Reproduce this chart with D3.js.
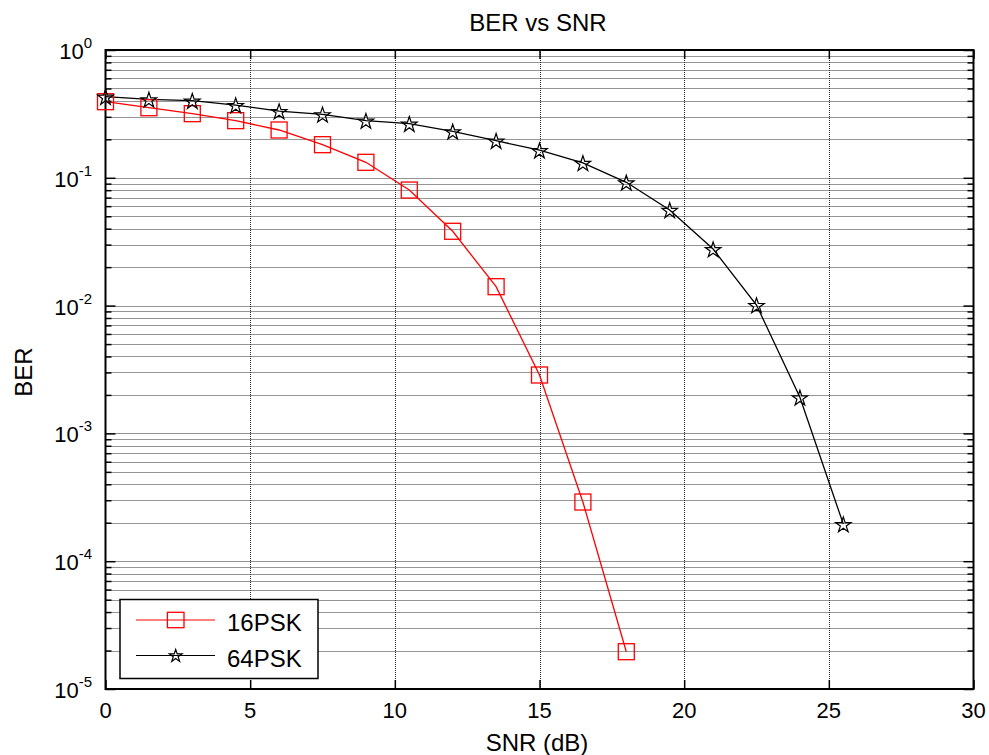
<!DOCTYPE html>
<html>
<head>
<meta charset="utf-8">
<script src="https://cdn.jsdelivr.net/npm/d3@7"></script>
<style>
  html, body { margin: 0; padding: 0; background: #fff; }
  svg { display: block; font-family: "Liberation Sans", Arial, sans-serif; }
</style>
</head>
<body>
<svg id="chart" width="989" height="755"></svg>
<script>
// ---- Data ----
const snr16 = [0, 1.5, 3, 4.5, 6, 7.5, 9, 10.5, 12, 13.5, 15, 16.5, 18];
const ber16 = [0.394, 0.3535, 0.3175, 0.280, 0.2366, 0.1816, 0.1322, 0.0802, 0.03815, 0.01406, 0.002864, 0.0002904, 1.958e-5];
const snr64 = [0, 1.5, 3, 4.5, 6, 7.5, 9, 10.5, 12, 13.5, 15, 16.5, 18, 19.5, 21, 22.5, 24, 25.5];
const ber64 = [0.431, 0.411, 0.401, 0.371, 0.333, 0.314, 0.280, 0.265, 0.231, 0.195, 0.1644, 0.131, 0.0922, 0.056, 0.0277, 0.0101, 0.001915, 0.000195];
const seriesNames = ["16PSK", "64PSK"];
const xTicks = [0, 5, 10, 15, 20, 25, 30];
const yExponents = [0, -1, -2, -3, -4, -5];
const titleText = "BER vs SNR";
const xLabel = "SNR (dB)";
const yLabel = "BER";

// ---- Layout ----
const svg = d3.select("#chart");
const L = 105.5, R = 973.5, T = 50, B = 689;
const x = d3.scaleLinear().domain([0, 30]).range([L, R]);
const y = d3.scaleLog().domain([1e-5, 1]).range([B, T]);

// minor log values
const minorVals = [];
for (let e = -5; e < 0; e++) {
  for (let m = 2; m <= 9; m++) minorVals.push(m * Math.pow(10, e));
}
const majorVals = yExponents.map(e => Math.pow(10, e));

// ---- Grid ----
const grid = svg.append("g").attr("stroke", "#2a2a2a").attr("stroke-width", 1).attr("stroke-dasharray", "1,1");
grid.selectAll("line.hg").data(minorVals.concat(majorVals.slice(1, -1))).join("line")
  .attr("x1", L).attr("x2", R)
  .attr("y1", d => Math.round(y(d)) + 0.5).attr("y2", d => Math.round(y(d)) + 0.5);
grid.selectAll("line.vg").data(xTicks.slice(1, -1)).join("line")
  .attr("y1", T).attr("y2", B)
  .attr("x1", d => Math.round(x(d)) + 0.5).attr("x2", d => Math.round(x(d)) + 0.5);

// ---- Axes (MATLAB style inward ticks on all sides) ----
const axBottom = d3.axisBottom(x).tickValues(xTicks).tickSize(-9).tickFormat("");
const axTop = d3.axisTop(x).tickValues(xTicks).tickSize(-9).tickFormat("");
const axLeftMaj = d3.axisLeft(y).tickValues(majorVals).tickSize(-10).tickFormat("");
const axLeftMin = d3.axisLeft(y).tickValues(minorVals).tickSize(-6).tickFormat("");
const axRightMaj = d3.axisRight(y).tickValues(majorVals).tickSize(-10).tickFormat("");
const axRightMin = d3.axisRight(y).tickValues(minorVals).tickSize(-6).tickFormat("");

function styleAxis(g) {
  g.select(".domain").remove();
  g.selectAll(".tick line").attr("stroke", "#000").attr("stroke-width", 1.5);
}
svg.append("g").attr("transform", `translate(0,${B})`).call(axBottom).call(styleAxis);
svg.append("g").attr("transform", `translate(0,${T})`).call(axTop).call(styleAxis);
svg.append("g").attr("transform", `translate(${L},0)`).call(axLeftMaj).call(styleAxis);
svg.append("g").attr("transform", `translate(${L},0)`).call(axLeftMin).call(styleAxis);
svg.append("g").attr("transform", `translate(${R},0)`).call(axRightMaj).call(styleAxis);
svg.append("g").attr("transform", `translate(${R},0)`).call(axRightMin).call(styleAxis);

// box
svg.append("rect").attr("x", L).attr("y", T).attr("width", R - L).attr("height", B - T)
  .attr("fill", "none").attr("stroke", "#000").attr("stroke-width", 2);

// tick labels
svg.append("g").selectAll("text").data(xTicks).join("text")
  .attr("x", d => x(d)).attr("y", 718)
  .attr("text-anchor", "middle").attr("font-size", 22).attr("fill", "#000")
  .text(d => d);

const yl = svg.append("g").selectAll("text").data(yExponents).join("text")
  .attr("x", 92).attr("y", d => y(Math.pow(10, d)) + 9)
  .attr("text-anchor", "end").attr("fill", "#000");
yl.append("tspan").attr("font-size", 22).text("10");
yl.append("tspan").attr("font-size", 15).attr("dy", -11).text(d => d === 0 ? "0" : "-" + Math.abs(d));

// ---- Lines ----
const line = d3.line().x(d => x(d[0])).y(d => y(d[1])).curve(d3.curveLinear);
const pts16 = snr16.map((s, i) => [s, ber16[i]]);
const pts64 = snr64.map((s, i) => [s, ber64[i]]);

const plot = svg.append("g");
plot.append("path").datum(pts16).attr("d", line).attr("fill", "none").attr("stroke", "#ff0000").attr("stroke-width", 1.3);
plot.append("path").datum(pts64).attr("d", line).attr("fill", "none").attr("stroke", "#000").attr("stroke-width", 1.3);

const sq = 16;
plot.selectAll("rect.m16").data(pts16).join("rect")
  .attr("x", d => x(d[0]) - sq / 2).attr("y", d => y(d[1]) - sq / 2)
  .attr("width", sq).attr("height", sq)
  .attr("fill", "none").attr("stroke", "#ff0000").attr("stroke-width", 1.3);

const starPath = d3.symbol().type(d3.symbolStar).size(75);
plot.selectAll("path.m64").data(pts64).join("path")
  .attr("d", starPath)
  .attr("transform", d => `translate(${x(d[0])},${y(d[1]) + 1})`)
  .attr("fill", "none").attr("stroke", "#000").attr("stroke-width", 1.2);

// ---- Legend ----
const lg = svg.append("g");
lg.append("rect").attr("x", 120).attr("y", 599.5).attr("width", 198).attr("height", 79)
  .attr("fill", "#fff").attr("stroke", "#000").attr("stroke-width", 1.5);
const legendRows = [
  { name: seriesNames[0], color: "#ff0000", y: 620 },
  { name: seriesNames[1], color: "#000", y: 655.5 }
];
legendRows.forEach((r, i) => {
  lg.append("line").attr("x1", 136).attr("x2", 215).attr("y1", r.y).attr("y2", r.y)
    .attr("stroke", r.color).attr("stroke-width", 1.2);
  if (i === 0) {
    lg.append("rect").attr("x", 175.7 - 8.3).attr("y", r.y - 7.7).attr("width", 16.6).attr("height", 15.4)
      .attr("fill", "none").attr("stroke", r.color).attr("stroke-width", 1.3);
  } else {
    lg.append("path").attr("d", d3.symbol().type(d3.symbolStar).size(50))
      .attr("transform", `translate(175.7,${r.y + 0.5})`)
      .attr("fill", "none").attr("stroke", r.color).attr("stroke-width", 1.2);
  }
  lg.append("text").attr("x", 227).attr("y", r.y + 11).attr("font-size", 24).attr("fill", "#000").text(r.name);
});

// ---- Titles ----
svg.append("text").attr("x", 538).attr("y", 31).attr("text-anchor", "middle")
  .attr("font-size", 24).attr("fill", "#000").text(titleText);
svg.append("text").attr("x", 537).attr("y", 751).attr("text-anchor", "middle")
  .attr("font-size", 24).attr("fill", "#000").text(xLabel);
svg.append("text").attr("transform", "translate(32,372) rotate(-90)").attr("text-anchor", "middle")
  .attr("font-size", 24).attr("fill", "#000").text(yLabel);
</script>
</body>
</html>
